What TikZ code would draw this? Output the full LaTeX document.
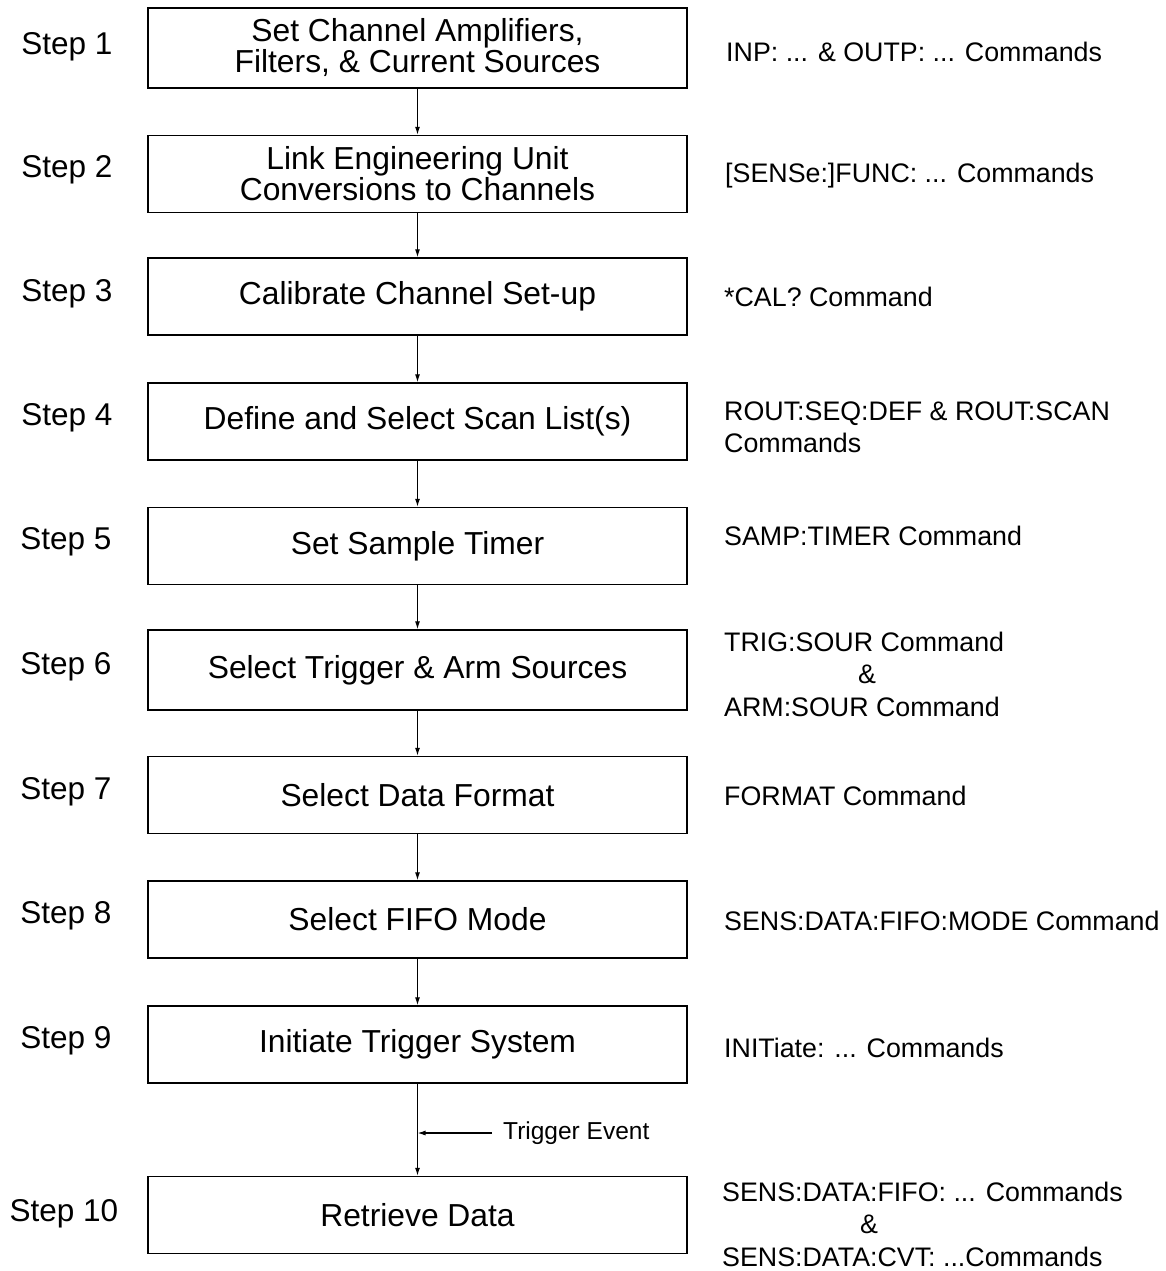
\documentclass[tikz,border=0pt]{standalone}
\usepackage{fontspec}
\setmainfont{Liberation Sans}
\usetikzlibrary{arrows.meta}
\begin{document}
\begin{tikzpicture}[x=1pt,y=-1pt,
  stepbox/.style={draw, line width=1.4pt, minimum width=539pt, minimum height=77pt, inner sep=0pt, align=center, font=\fontsize{31.8}{31}\selectfont},
  steplabel/.style={inner sep=0pt, font=\fontsize{31.5}{31}\selectfont},
  cmd/.style={anchor=west, inner sep=0pt, align=left, font=\fontsize{26.8}{32.5}\selectfont},
  flow/.style={line width=1.2pt, -{Latex[length=8pt,width=5pt]}}]
\useasboundingbox (0,0) rectangle (1166,1271);
\fill[white] (0,0) rectangle (1166,1271);

\node[stepbox, minimum height=80pt] (b1) at (417.5,48) {Set Channel Amplifiers,\\Filters, \& Current Sources};
\node[stepbox] (b2) at (417.5,174) {Link Engineering Unit\\Conversions to Channels};
\node[stepbox] (b3) at (417.5,296.5) {Calibrate Channel Set-up};
\node[stepbox] (b4) at (417.5,421.5) {Define and Select Scan List(s)};
\node[stepbox] (b5) at (417.5,546) {Set Sample Timer};
\node[stepbox, minimum height=80pt] (b6) at (417.5,670) {Select Trigger \& Arm Sources};
\node[stepbox] (b7) at (417.5,795) {Select Data Format};
\node[stepbox] (b8) at (417.5,919.5) {Select FIFO Mode};
\node[stepbox] (b9) at (417.5,1044.5) {Initiate Trigger System};
\node[stepbox] (b10) at (417.5,1215) {Retrieve Data};

\node[steplabel] (s1) at (67,47) {Step 1};
\node[steplabel] (s2) at (67,170) {Step 2};
\node[steplabel] (s3) at (67,294) {Step 3};
\node[steplabel] (s4) at (67,418) {Step 4};
\node[steplabel] (s5) at (66,542) {Step 5};
\node[steplabel] (s6) at (66,667) {Step 6};
\node[steplabel] (s7) at (66,792) {Step 7};
\node[steplabel] (s8) at (66,916) {Step 8};
\node[steplabel] (s9) at (66,1041) {Step 9};
\node[steplabel] (s10) at (64,1214) {Step 10};

\node[cmd] (c1) at (726,52) {INP: ... \& OUTP: ... Commands};
\node[cmd] (c2) at (725,176) {[SENSe:]FUNC: ... Commands};
\node[cmd] (c3) at (724,297) {*CAL? Command};
\node[cmd] (c4) at (724,427.5) {ROUT:SEQ:DEF \& ROUT:SCAN\\Commands};
\node[cmd] (c5) at (724,536) {SAMP:TIMER Command};
\node[cmd] (c6) at (724,674) {TRIG:SOUR Command\\\hspace*{134pt}\&\\ARM:SOUR Command};
\node[cmd] (c7) at (724,796) {FORMAT Command};
\node[cmd] (c8) at (724,921) {SENS:DATA:FIFO:MODE Command};
\node[cmd] (c9) at (724,1048) {INITiate: ... Commands};
\node[cmd] (c10) at (722,1224) {SENS:DATA:FIFO: ... Commands\\\hspace*{138pt}\&\\SENS:DATA:CVT: ...Commands};

\foreach \a/\b in {b1/b2,b2/b3,b3/b4,b4/b5,b5/b6,b6/b7,b7/b8,b8/b9,b9/b10}
  \draw[flow] (\a.south) -- (\b.north);

\coordinate (te) at (417.5,1133);
\node[anchor=west, inner sep=0pt, font=\fontsize{24.5}{24.5}\selectfont] (tl) at (503,1133) {Trigger Event};
\draw[flow] ([xshift=-11pt]tl.west) -- (te);
\end{tikzpicture}
\end{document}
